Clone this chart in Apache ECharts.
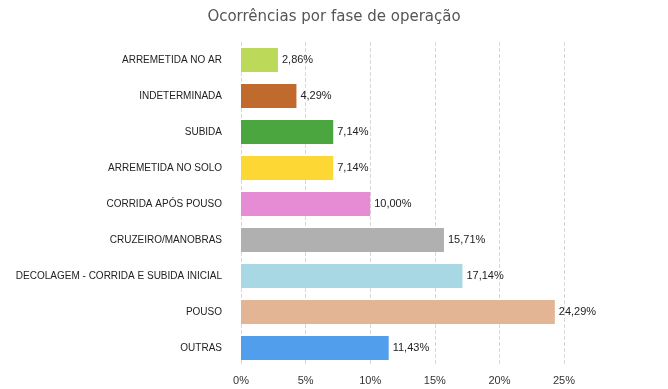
<!DOCTYPE html>
<html><head><meta charset="utf-8">
<script src="https://cdn.jsdelivr.net/npm/echarts@6/dist/echarts.min.js"></script>
<style>html,body{margin:0;padding:0;background:#fff}#c{width:668px;height:389px}</style>
</head><body><div id="c"></div>
<script>
const categories = ["ARREMETIDA NO AR","INDETERMINADA","SUBIDA","ARREMETIDA NO SOLO","CORRIDA APÓS POUSO","CRUZEIRO/MANOBRAS","DECOLAGEM - CORRIDA E SUBIDA INICIAL","POUSO","OUTRAS"];
const values = [2.86,4.29,7.14,7.14,10.00,15.71,17.14,24.29,11.43];
const colors = ["#bcd95a","#c06b2d","#4ba640","#fdd835","#e68cd4","#b0b0b0","#a8d8e3","#e4b594","#519fec"];
const title = "Ocorrências por fase de operação";

const chart = echarts.init(document.getElementById('c'), null, {renderer:'canvas'});
chart.setOption({
  animation:false,
  title:{text:title,left:'center',top:5,textStyle:{fontFamily:'DejaVu Sans',fontSize:15,fontWeight:'normal',color:'#555'}},
  grid:{left:241,right:104,top:42,bottom:23,containLabel:false,outerBoundsMode:'none'},
  xAxis:{type:'value',min:0,max:25,interval:5,
    axisLabel:{formatter:'{value}%',fontFamily:'Liberation Sans',fontSize:11,color:'#333',margin:9},
    axisLine:{show:false},axisTick:{show:false},
    splitLine:{show:true,lineStyle:{type:'dashed',color:'#d8d8d8'}}},
  yAxis:{type:'category',data:categories,inverse:true,
    axisLabel:{fontFamily:'Liberation Sans',fontSize:10,color:'#222',margin:19},
    axisLine:{show:false},axisTick:{show:false}},
  series:[{type:'bar',barWidth:24,
    data:values.map((v,i)=>({value:v,itemStyle:{color:colors[i]}})),
    label:{show:true,position:'right',distance:4,fontFamily:'Liberation Sans',fontSize:11,color:'#222',
      formatter:p=>p.value.toFixed(2).replace('.',',')+'%'}}]
});
</script></body></html>
